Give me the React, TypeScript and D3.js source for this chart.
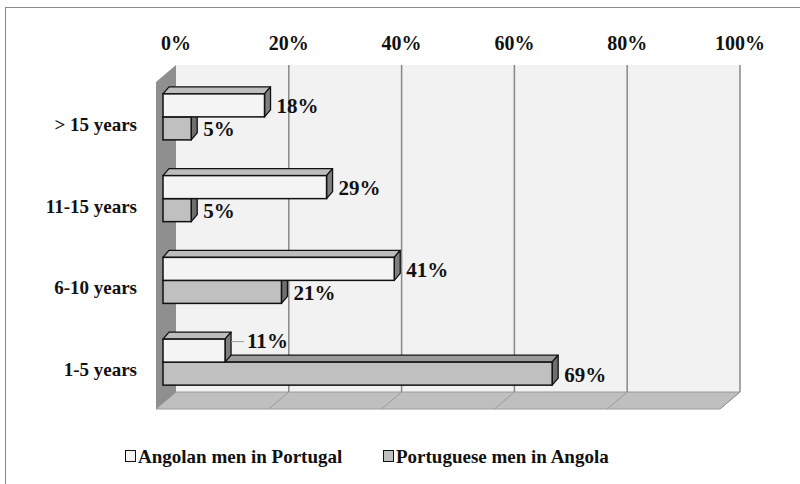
import React from 'react';
import * as d3 from 'd3';

const categories = ['> 15 years', '11-15 years', '6-10 years', '1-5 years'];
const angolanInPortugal = [18, 29, 41, 11];
const portugueseInAngola = [5, 5, 21, 69];
const ticks = [0, 20, 40, 60, 80, 100];
const seriesNames = ['Angolan men in Portugal', 'Portuguese men in Angola'];

const W = 800;
const H = 484;
const FONT = '"Liberation Serif", "Times New Roman", serif';

// 3D geometry: back wall, floor depth offset, bar depth offset
const backX = 176;
const backTop = 65;
const backBottom = 392;
const depthDx = -20;
const depthDy = 17;
const barX0 = 163;
const barDx = 6;
const barDy = -7;

const App: React.FC = () => {
  const x = d3.scaleLinear().domain([0, 100]).range([0, 564]);
  const y = d3.scaleBand<string>().domain(categories).range([76, 403]).paddingInner(0.437).paddingOuter(0.2185);
  const bh = y.bandwidth() / 2;

  const seriesStyle = [
    { front: '#f4f4f4', top: '#bdbdbd', side: '#7f7f7f' },
    { front: '#c0c0c0', top: '#9a9a9a', side: '#6f6f6f' },
  ];

  // label pushed aside when the bar below is longer (it would sit on its top face)
  const bar = (v: number, top: number, s: number, key: string, crowded = false) => {
    const w = x(v);
    const st = seriesStyle[s];
    const x1 = barX0 + w;
    const lx = x1 + barDx + (crowded ? 16 : 6);
    const ly = top + bh / 2 + (crowded ? -3 : 8);
    return (
      <g key={key}>
        <polygon
          points={`${barX0},${top} ${barX0 + barDx},${top + barDy} ${x1 + barDx},${top + barDy} ${x1},${top}`}
          fill={st.top} stroke="#111" strokeWidth={1.3} strokeLinejoin="round" />
        <polygon
          points={`${x1},${top} ${x1 + barDx},${top + barDy} ${x1 + barDx},${top + bh + barDy} ${x1},${top + bh}`}
          fill={st.side} stroke="#111" strokeWidth={1.3} strokeLinejoin="round" />
        <rect x={barX0} y={top} width={w} height={bh} fill={st.front} stroke="#111" strokeWidth={1.5} />
        {crowded && (
          <line x1={x1 + barDx} x2={lx - 3} y1={ly - 6} y2={ly - 6} stroke="#999" strokeWidth={1} />
        )}
        <text x={lx} y={ly} fontFamily={FONT} fontWeight="bold" fontSize={21} fill="#111">
          {v}%
        </text>
      </g>
    );
  };

  return (
    <div style={{ position: 'fixed', left: 0, top: 0 }}>
      <svg width={W} height={H} style={{ display: 'block', background: '#fff' }}>
        <rect x={5.5} y={7.5} width={W} height={H} fill="#fff" stroke="#8a8a8a" strokeWidth={1} />

        {/* back wall */}
        <rect x={backX} y={backTop} width={x(100)} height={backBottom - backTop} fill="#f2f2f2" />
        {/* floor */}
        <polygon
          points={`${backX},${backBottom} ${backX + x(100)},${backBottom} ${backX + x(100) + depthDx},${backBottom + depthDy} ${backX + depthDx},${backBottom + depthDy}`}
          fill="#bfbfbf" stroke="#9a9a9a" strokeWidth={1} />
        {/* left wall */}
        <polygon
          points={`${backX},${backTop} ${backX},${backBottom} ${backX + depthDx},${backBottom + depthDy} ${backX + depthDx},${backTop + depthDy}`}
          fill="#8f8f8f" />

        {/* grid lines on back wall and floor */}
        {ticks.slice(1).map(t => (
          <g key={t}>
            <line x1={backX + x(t)} x2={backX + x(t)} y1={backTop} y2={backBottom} stroke="#888" strokeWidth={1.5} />
            <line x1={backX + x(t)} x2={backX + x(t) + depthDx} y1={backBottom} y2={backBottom + depthDy} stroke="#9a9a9a" strokeWidth={1} />
          </g>
        ))}

        {/* top axis labels */}
        {ticks.map(t => (
          <text key={t} x={backX + x(t)} y={50} textAnchor="middle" fontFamily={FONT} fontWeight="bold" fontSize={20} fill="#111">
            {t}%
          </text>
        ))}

        {/* category labels */}
        {categories.map(c => (
          <text key={c} x={137} y={(y(c) ?? 0) + bh + 14} textAnchor="end" fontFamily={FONT} fontWeight="bold" fontSize={19} fill="#111">
            {c}
          </text>
        ))}

        {/* bars */}
        {categories.map((c, i) => {
          const top = y(c) ?? 0;
          return (
            <g key={c}>
              {bar(portugueseInAngola[i], top + bh, 1, 'p')}
              {bar(angolanInPortugal[i], top, 0, 'a', portugueseInAngola[i] > angolanInPortugal[i] + 5)}
            </g>
          );
        })}

        {/* legend */}
        {seriesNames.map((n, i) => {
          const lx = i === 0 ? 125 : 383;
          return (
            <g key={n}>
              <rect x={lx + 0.5} y={450.5} width={10} height={11} fill={seriesStyle[i].front} stroke="#111" strokeWidth={1} />
              <text x={lx + 13} y={463} fontFamily={FONT} fontWeight="bold" fontSize={19} fill="#111">{n}</text>
            </g>
          );
        })}
      </svg>
    </div>
  );
};

export default App;
